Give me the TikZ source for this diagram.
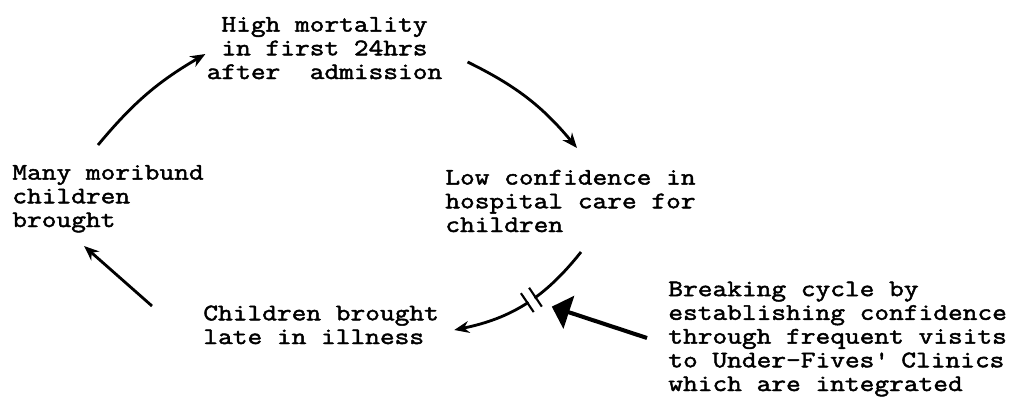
\documentclass[tikz,border=0pt]{standalone}
\usepackage{fontspec}
\setmonofont{Latin Modern Mono}[FakeBold=2,FakeStretch=1.205]
\usetikzlibrary{arrows.meta}
\begin{document}
\begin{tikzpicture}[x=0.02cm,y=-0.02cm,>={Stealth[length=0.3cm,width=0.24cm]},
  every node/.style={font=\ttfamily\fontsize{13.5}{13.5}\selectfont,inner sep=0pt},
  cyc/.style={->,line width=1.6pt},
  brk/.style={sloped,fill=white,minimum width=0.14cm,minimum height=0.4cm},
  bigarr/.style={line width=2.3pt,-{Triangle[length=0.36cm,width=0.68cm]}}]
\useasboundingbox (0,0) rectangle (1012,403);
\node[align=center,anchor=base] (T) at (324.5,79) {High mortality\\in first 24hrs\\after\ \ admission};
\node[align=left,anchor=base west] (ML) at (12,227) {Many moribund\\children\\brought};
\node[align=left,anchor=base west] (MR) at (445,232) {Low confidence in\\hospital care for\\children};
\node[align=left,anchor=base west] (B) at (203,344) {Children brought\\late in illness};
\node[align=left,anchor=base west] (N) at (668,391) {Breaking cycle by\\establishing confidence\\through frequent visits\\to Under-Fives\textquotesingle{} Clinics\\which are integrated};
\draw[cyc] ([shift={(86,-82)}]ML.base west) to[bend left=10] ([shift={(-1,-25)}]T.base west);
\draw[cyc] ([shift={(25,-17)}]T.base east) to[bend left=12] ([shift={(132,-84)}]MR.base west);
\draw[cyc] ([shift={(136,20)}]MR.base west) to[bend left=20] node[brk,pos=.45] (brk) {} ([shift={(15,-14)}]B.base east);
\draw[cyc] ([shift={(-51,-38)}]B.base west) -- ([shift={(72,19)}]ML.base west);
\draw[line width=1.2pt] (brk.north west) -- (brk.south west) (brk.north east) -- (brk.south east);
\draw[bigarr,shorten >=0.43cm] ([shift={(-21,-53)}]N.base west) -- (brk.center);
\end{tikzpicture}
\end{document}
